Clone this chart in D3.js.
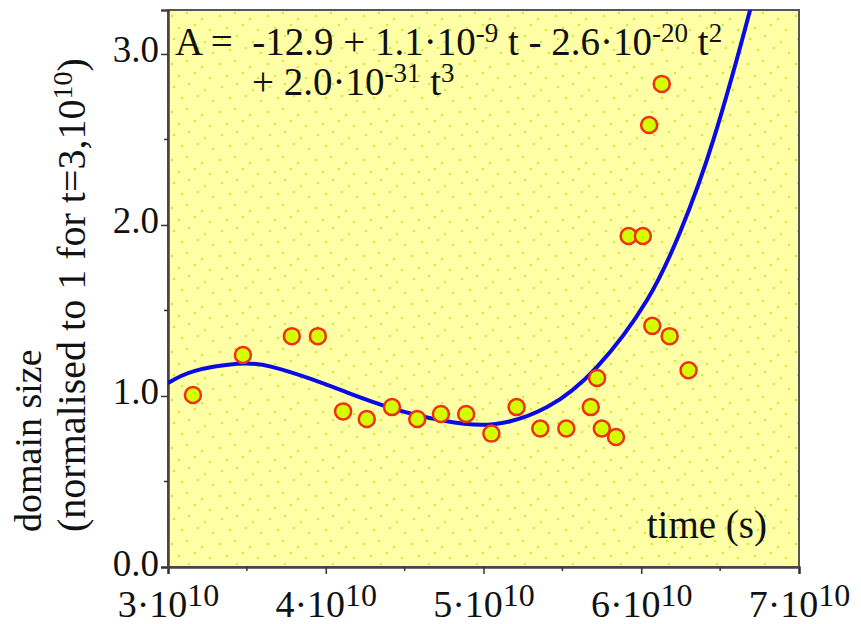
<!DOCTYPE html>
<html><head><meta charset="utf-8">
<script src="https://cdn.jsdelivr.net/npm/d3@7"></script>
<style>
html,body{margin:0;padding:0;background:#fff;}
svg text{font-family:"Liberation Serif","Times New Roman",serif !important;fill:#111;}
</style></head>
<body>
<svg id="chart" width="861" height="624"></svg>
<script>
// ---- data ----
const timeValues = [3.158e10,3.475e10,3.785e10,3.95e10,4.11e10,4.26e10,4.42e10,4.58e10,4.73e10,4.89e10,5.05e10,5.21e10,5.36e10,5.525e10,5.68e10,5.72e10,5.75e10,5.84e10,5.92e10,6.01e10,6.05e10,6.13e10,6.07e10,6.18e10,6.30e10];
const domainSizes = [1.006,1.24,1.35,1.35,0.91,0.865,0.935,0.865,0.895,0.895,0.78,0.935,0.81,0.81,0.935,1.105,0.81,0.76,1.935,1.935,2.585,2.825,1.41,1.35,1.15];
const fitTimes = [3.0e10,3.166e10,3.441e10,3.652e10,3.905e10,4.137e10,4.432e10,4.749e10,5.065e10,5.403e10,5.720e10,6.036e10,6.247e10,6.458e10,6.690e10,6.753e10];
const fitValues = [1.075,1.145,1.188,1.172,1.10,1.02,0.925,0.855,0.835,0.935,1.17,1.56,1.96,2.50,3.257,3.50];
const xTicks = [3e10,4e10,5e10,6e10,7e10];
const xTickMantissa = ["3","4","5","6","7"];
const xTickExponent = "10";
const xMinorTicks = [3.5e10,4.5e10,5.5e10,6.5e10];
const yTicks = [0,1,2,3];
const yTickLabels = ["0.0","1.0","2.0","3.0"];
const yMinorTicks = [0.5,1.5,2.5];
const bgDots = [[3,5],[18,2],[33,8],[10,17],[26,14],[41,19],[5,28],[20,25],[36,31],[13,39],[29,37],[44,42]];

// ---- layout ----
const svg = d3.select("#chart");
const L = 168, R = 799, T = 10, B = 567;
const x = d3.scaleLinear().domain([3e10,7e10]).range([L,R]);
const y = d3.scaleLinear().domain([0,3.257]).range([B,T]);

const defs = svg.append("defs");
const pat = defs.append("pattern").attr("id","dots").attr("patternUnits","userSpaceOnUse")
  .attr("width",48).attr("height",48).attr("x",L).attr("y",T);
pat.append("rect").attr("width",48).attr("height",48).attr("fill","#ffffa6");
pat.selectAll("rect.d").data(bgDots).join("rect").attr("class","d")
  .attr("x",d=>d[0]).attr("y",d=>d[1]).attr("width",2).attr("height",2).attr("fill","#c8f01a");
defs.append("clipPath").attr("id","clip").append("rect")
  .attr("x",L).attr("y",T).attr("width",R-L).attr("height",B-T);

svg.append("rect").attr("x",L).attr("y",T).attr("width",R-L).attr("height",B-T)
  .attr("fill","url(#dots)");

// frame
svg.append("rect").attr("x",L).attr("y",T).attr("width",R-L).attr("height",B-T)
  .attr("fill","none").attr("stroke","#555").attr("stroke-width",2);

const serif = '"Liberation Serif","Times New Roman",serif';

// axes
const xAxis = svg.append("g").attr("transform",`translate(0,${B})`)
  .call(d3.axisBottom(x).tickValues(xTicks).tickSize(7).tickFormat(""))
  .attr("font-family",serif);
xAxis.append("g").selectAll("line").data(xMinorTicks).join("line")
   .attr("x1",d=>x(d)).attr("x2",d=>x(d)).attr("y1",0).attr("y2",4).attr("stroke","#333").attr("stroke-width",1.5);
xAxis.select(".domain").attr("stroke","#444").attr("stroke-width",2.5);
xAxis.selectAll(".tick line").attr("stroke","#333").attr("stroke-width",1.5);
xAxis.selectAll(".tick text").remove();
xAxis.selectAll(".tick").append("text").attr("y",50).attr("text-anchor","middle")
  .style("font-size","38px").style("fill","#111")
  .each(function(d,i){
    const t = d3.select(this);
    t.append("tspan").text(xTickMantissa[i]+"\u00b710");
    t.append("tspan").attr("dy",-11).style("font-size","32px").text(xTickExponent);
  });

const yAxis = svg.append("g").attr("transform",`translate(${L},0)`)
  .call(d3.axisLeft(y).tickValues(yTicks).tickSize(7).tickFormat((d,i)=>yTickLabels[i]))
  .attr("font-family",serif);
yAxis.select(".domain").attr("stroke","#444").attr("stroke-width",2.5);
yAxis.selectAll(".tick line").attr("stroke","#333").attr("stroke-width",1.5);
yAxis.selectAll(".tick text").attr("x",-9).attr("dy",8).style("font-size","37px").style("fill","#111");
yAxis.append("g").selectAll("line").data(yMinorTicks).join("line")
  .attr("x1",0).attr("x2",-4).attr("y1",d=>y(d)).attr("y2",d=>y(d)).attr("stroke","#333").attr("stroke-width",1.5);

// fit curve
const line = d3.line().x((d,i)=>x(fitTimes[i])).y(d=>y(d)).curve(d3.curveNatural);
svg.append("path").attr("clip-path","url(#clip)").datum(fitValues).attr("d",line)
  .attr("fill","none").attr("stroke","#0a0ae6").attr("stroke-width",4);

// points
svg.append("g").selectAll("circle").data(domainSizes).join("circle")
  .attr("cx",(d,i)=>x(timeValues[i])).attr("cy",d=>y(d)).attr("r",8)
  .attr("fill","#d4ff00").attr("stroke","#f03010").attr("stroke-width",2.5);

// equation
const eq = svg.append("text").attr("x",175).attr("y",55).style("font-size","39px").style("white-space","pre");
eq.append("tspan").text("A =  -12.9 + 1.1\u00b710");
eq.append("tspan").attr("dy",-13).style("font-size","27px").text("-9");
eq.append("tspan").attr("dy",13).text(" t - 2.6\u00b710");
eq.append("tspan").attr("dy",-13).style("font-size","27px").text("-20");
eq.append("tspan").attr("dy",13).text(" t");
eq.append("tspan").attr("dy",-13).style("font-size","27px").text("2");
const eq2 = svg.append("text").attr("x",252).attr("y",95).style("font-size","39px").style("white-space","pre");
eq2.append("tspan").text("+ 2.0\u00b710");
eq2.append("tspan").attr("dy",-13).style("font-size","27px").text("-31");
eq2.append("tspan").attr("dy",13).text(" t");
eq2.append("tspan").attr("dy",-13).style("font-size","27px").text("3");

// x title
svg.append("text").attr("x",767).attr("y",538).attr("text-anchor","end").style("font-size","39px").text("time (s)");

// y title
const yt = svg.append("g").attr("transform","translate(0,532) rotate(-90)");
yt.append("text").attr("x",0).attr("y",41).style("font-size","38px").text("domain size");
const yt2 = yt.append("text").attr("x",0).attr("y",85).style("font-size","40px");
yt2.append("tspan").text("(normalised to 1 for t=3,10");
yt2.append("tspan").attr("dy",-13).style("font-size","28px").text("10");
yt2.append("tspan").attr("dy",13).text(")");
</script>
</body></html>
